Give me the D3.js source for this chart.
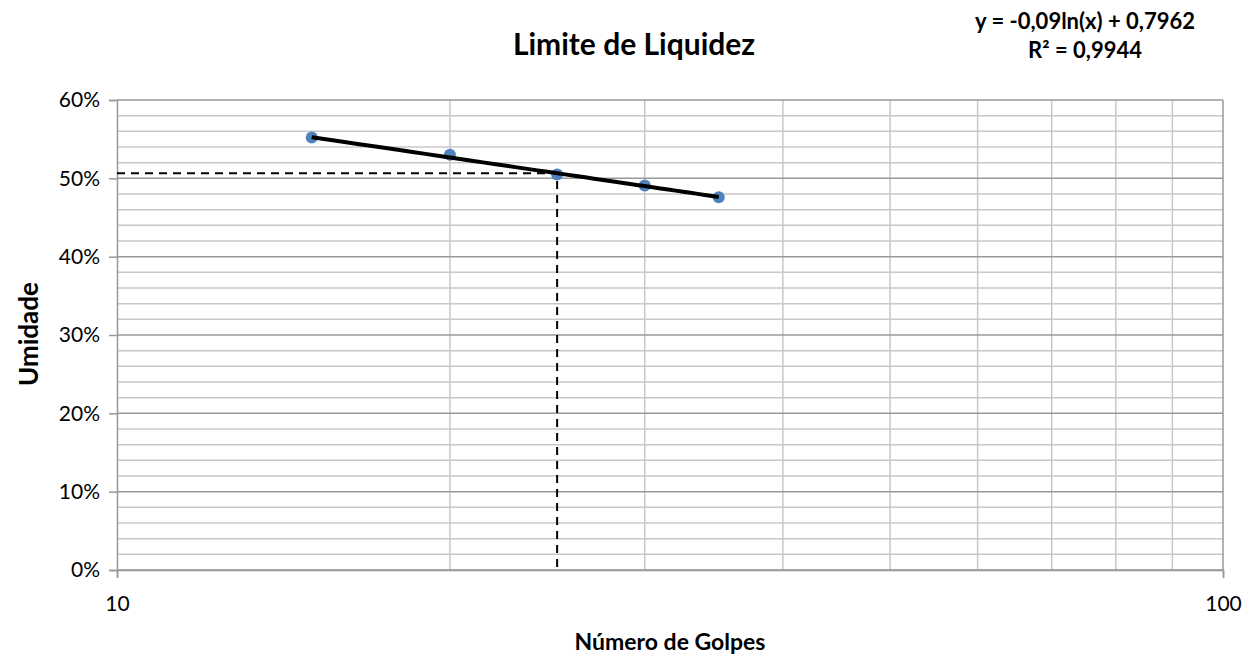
<!DOCTYPE html>
<html>
<head>
<meta charset="utf-8">
<script src="https://cdn.jsdelivr.net/npm/d3@7"></script>
<style>
  body { margin: 0; background: #fff; }
  svg { font-family: Lato, "Open Sans", sans-serif; }
</style>
</head>
<body>
<div id="chart"></div>
<script>
// data
const golpes = [15, 20, 25, 30, 35];
const umidade = [0.552, 0.530, 0.505, 0.491, 0.476];
const yTicks = [0, 0.1, 0.2, 0.3, 0.4, 0.5, 0.6];
const xTicks = [10, 100];
// trendline y = a ln(x) + b
const coefA = -0.09, coefB = 0.7962;
const limite = 25;

const width = 1258, height = 665;
const margin = { top: 100, right: 35, bottom: 95, left: 117 };

const svg = d3.select("#chart").append("svg")
    .attr("width", width)
    .attr("height", height);

const g = svg.append("g")
    .attr("transform", "translate(" + margin.left + "," + margin.top + ")");

const w = width - margin.left - margin.right;
const h = height - margin.top - margin.bottom;

const x = d3.scaleLog().domain([10, 100]).range([0, w]);
const y = d3.scaleLinear().domain([0, 0.6]).range([h, 0]);

// minor horizontal grid every 2%
const minorY = d3.range(0, 0.6001, 0.02).filter(v => Math.round(v * 100) % 10 !== 0);
g.selectAll(".minor-y").data(minorY).enter().append("line")
    .attr("x1", 0).attr("x2", w)
    .attr("y1", d => y(d)).attr("y2", d => y(d))
    .attr("stroke", "#c8c8c8").attr("stroke-width", 1.5);

// vertical grid at 20..90
g.selectAll(".grid-x").data(d3.range(20, 100, 10)).enter().append("line")
    .attr("x1", d => x(d)).attr("x2", d => x(d))
    .attr("y1", 0).attr("y2", h)
    .attr("stroke", "#c8c8c8").attr("stroke-width", 1.5);

// major horizontal grid every 10%
g.selectAll(".major-y").data(yTicks).enter().append("line")
    .attr("x1", 0).attr("x2", w)
    .attr("y1", d => y(d)).attr("y2", d => y(d))
    .attr("stroke", "#999").attr("stroke-width", 1.5);

// right border
g.append("line")
    .attr("x1", w).attr("x2", w).attr("y1", 0).attr("y2", h)
    .attr("stroke", "#999").attr("stroke-width", 1.5);

// axes
const yAxis = g.append("g")
    .call(d3.axisLeft(y).tickValues(yTicks).tickFormat(d3.format(".0%")).tickSize(8).tickPadding(9));
const xAxis = g.append("g")
    .attr("transform", "translate(0," + h + ")")
    .call(d3.axisBottom(x).tickValues(xTicks).tickFormat(d3.format("d")).tickSize(8).tickPadding(18));
[yAxis, xAxis].forEach(a => {
    a.select(".domain").attr("stroke", "#999").attr("stroke-width", 1.5);
    a.selectAll(".tick line").attr("stroke", "#999").attr("stroke-width", 1.5);
    a.selectAll("text").attr("font-size", 21).attr("fill", "#000")
        .attr("font-family", "Lato, 'Open Sans', sans-serif");
});

// dashed guide lines at 25 golpes
const yLim = coefA * Math.log(limite) + coefB;
g.append("path")
    .attr("d", "M" + x(10) + "," + y(yLim) + "H" + x(limite) + "V" + y(0))
    .attr("fill", "none")
    .attr("stroke", "#000")
    .attr("stroke-width", 2)
    .attr("stroke-dasharray", "8,6");

// points
g.selectAll(".pt").data(golpes).enter().append("circle")
    .attr("cx", d => x(d))
    .attr("cy", (d, i) => y(umidade[i]))
    .attr("r", 6)
    .attr("fill", "#4f81bd");

// trendline
const trend = d3.range(golpes[0], golpes[golpes.length - 1] + 0.01, 0.5).map(v => ({ x: v, y: coefA * Math.log(v) + coefB }));
g.append("path")
    .datum(trend)
    .attr("d", d3.line().x(d => x(d.x)).y(d => y(d.y)))
    .attr("fill", "none")
    .attr("stroke", "#000")
    .attr("stroke-width", 4);

// title and labels
svg.append("text")
    .attr("x", 634).attr("y", 55)
    .attr("text-anchor", "middle")
    .attr("font-size", 30).attr("font-weight", "bold")
    .text("Limite de Liquidez");

svg.append("text")
    .attr("x", 1085).attr("y", 29)
    .attr("text-anchor", "middle")
    .attr("font-size", 22).attr("font-weight", "bold")
    .text("y = -0,09ln(x) + 0,7962");
svg.append("text")
    .attr("x", 1085).attr("y", 58)
    .attr("text-anchor", "middle")
    .attr("font-size", 22).attr("font-weight", "bold")
    .text("R² = 0,9944");

svg.append("text")
    .attr("x", 670).attr("y", 650)
    .attr("text-anchor", "middle")
    .attr("font-size", 23).attr("font-weight", "bold")
    .text("Número de Golpes");

svg.append("text")
    .attr("transform", "translate(38,334) rotate(-90)")
    .attr("text-anchor", "middle")
    .attr("font-size", 26).attr("font-weight", "bold")
    .text("Umidade");
</script>
</body>
</html>
